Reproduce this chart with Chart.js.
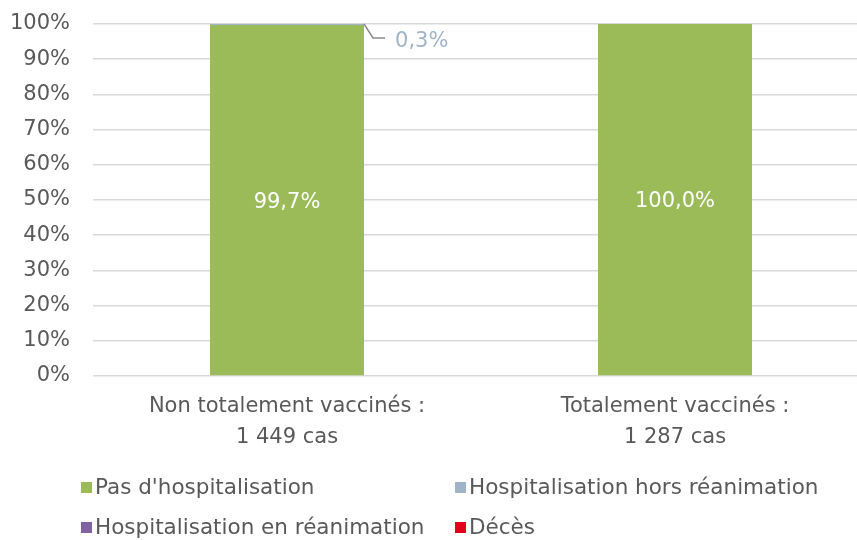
<!DOCTYPE html>
<html>
<head>
<meta charset="utf-8">
<script src="https://cdn.jsdelivr.net/npm/chart.js@4.4.1/dist/chart.umd.min.js"></script>
<style>
  html, body { margin: 0; padding: 0; background: #fff; overflow: hidden; }
  #chart { display: block; }
</style>
</head>
<body>
<!-- le canevas déborde un peu à droite comme l'original, qui est recadré -->
<canvas id="chart" width="869" height="540"></canvas>
<script>
// Données
const categories = [
  ["Non totalement vaccinés :", "1 449 cas"],
  ["Totalement vaccinés :", "1 287 cas"],
];
const seriesNames = [
  "Pas d'hospitalisation",
  "Hospitalisation hors réanimation",
  "Hospitalisation en réanimation",
  "Décès",
];
const pasHospit = [99.7, 100.0];
const horsRea = [0.3, 0];
const enRea = [0, 0];
const deces = [0, 0];
const yTicks = [0, 10, 20, 30, 40, 50, 60, 70, 80, 90, 100];

const colors = ["#9bbb59", "#9fb4c9", "#8064a2", "#e3001b"];
const textColor = "#595959";
const fontFamily = "'DejaVu Sans', sans-serif";

// format français : 99,7%
const fmt = (v) => v.toFixed(1).replace(".", ",") + "%";

// Etiquettes des valeurs
const labelsPlugin = {
  id: "valueLabels",
  afterDatasetsDraw(chart) {
    const ctx = chart.ctx;
    ctx.save();
    ctx.font = "21px " + fontFamily;
    ctx.textAlign = "center";
    ctx.textBaseline = "middle";
    ctx.fillStyle = "#ffffff";
    chart.getDatasetMeta(0).data.forEach((bar, i) => {
      ctx.fillText(fmt(pasHospit[i]), bar.x, (bar.y + bar.base) / 2 + 2);
    });

    // 0,3% avec ligne de rappel
    const meta = chart.getDatasetMeta(1);
    meta.data.forEach((bar, i) => {
      if (horsRea[i] <= 0) return;
      const x0 = bar.x + bar.width / 2;
      const y0 = bar.y;
      ctx.strokeStyle = "#8c8c8c";
      ctx.lineWidth = 1.5;
      ctx.beginPath();
      ctx.moveTo(x0, y0);
      ctx.lineTo(x0 + 9, y0 + 14);
      ctx.lineTo(x0 + 21, y0 + 14);
      ctx.stroke();
      ctx.fillStyle = "#9fb4c9";
      ctx.textAlign = "left";
      ctx.fillText(fmt(horsRea[i]), x0 + 31, y0 + 18);
    });
    ctx.restore();
  },
};

// Légende façon Excel (deux colonnes)
const legendPlugin = {
  id: "excelLegend",
  afterDraw(chart) {
    const ctx = chart.ctx;
    const pos = [[81, 487], [455, 487], [81, 527], [455, 527]];
    ctx.save();
    ctx.font = "21.5px " + fontFamily;
    ctx.textBaseline = "middle";
    ctx.textAlign = "left";
    chart.data.datasets.forEach((ds, i) => {
      const [x, y] = pos[i];
      ctx.fillStyle = ds.backgroundColor;
      ctx.fillRect(x, y - 5, 11, 11);
      ctx.fillStyle = textColor;
      ctx.fillText(ds.label, x + 14, y + 1);
    });
    ctx.restore();
  },
};

const data = {
  labels: categories,
  datasets: [pasHospit, horsRea, enRea, deces].map((d, i) => ({
    label: seriesNames[i],
    data: d,
    backgroundColor: colors[i],
    borderWidth: 0,
    categoryPercentage: 1,
    barPercentage: 0.397,
  })),
};

new Chart(document.getElementById("chart"), {
  type: "bar",
  data: data,
  options: {
    responsive: false,
    animation: false,
    devicePixelRatio: 1,
    layout: { padding: { top: 24, right: 0, bottom: 94, left: 0 } },
    plugins: {
      legend: { display: false },
      tooltip: { enabled: false },
    },
    scales: {
      x: {
        stacked: true,
        grid: { display: false },
        border: { display: false },
        afterFit: (scale) => {
          scale.height = 70;
        },
        ticks: {
          color: textColor,
          font: { family: fontFamily, size: 21, lineHeight: 1.48 },
          padding: 7,
          maxRotation: 0,
        },
      },
      y: {
        stacked: true,
        min: 0,
        max: 100,
        afterBuildTicks: (scale) => {
          scale.ticks = yTicks.map((v) => ({ value: v }));
        },
        afterFit: (scale) => {
          scale.width = 93;
          scale.paddingTop = 0;
          scale.paddingBottom = 0;
        },
        grid: { color: "#d9d9d9", lineWidth: 1.5, drawTicks: false },
        border: { display: false },
        ticks: {
          color: textColor,
          font: { family: fontFamily, size: 21 },
          padding: 23,
          callback: (v) => v + "%",
        },
      },
    },
  },
  plugins: [labelsPlugin, legendPlugin],
});
</script>
</body>
</html>
